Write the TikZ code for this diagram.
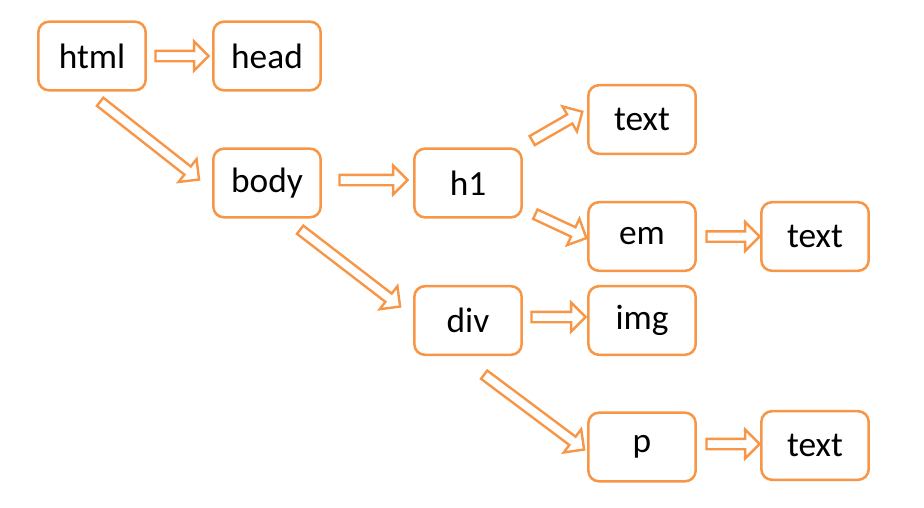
\documentclass[tikz,border=0pt]{standalone}
\usepackage{fontspec}
\setmainfont{Carlito}
\usetikzlibrary{shapes.arrows,calc}
\definecolor{accent}{HTML}{F79646}
\tikzset{
  box/.style={draw=accent, line width=1.9pt, rounded corners=8pt, fill=white,
    minimum width=80.5pt, minimum height=51.5pt, inner sep=0pt,
    font=\fontsize{26.5}{30}\selectfont, text=black},
  blockarrow/.style={single arrow, draw=accent, line width=1.8pt, fill=white,
    inner xsep=0pt, inner ysep=3pt, single arrow head extend=7pt,
    single arrow tip angle=90, anchor=center}
}
\newcommand\barrow[2]{%
  \path let \p1=(#1), \p2=(#2),
    \n1={atan2(\y2-\y1,\x2-\x1)}, \n2={veclen(\x2-\x1,\y2-\y1)} in
    node[blockarrow, rotate=\n1, minimum height=\n2] at ($(\p1)!0.5!(\p2)$) {};}
\begin{document}
\begin{tikzpicture}[x=0.75pt,y=-0.75pt]
\useasboundingbox (0,0) rectangle (924,507);
\node[box] (html)  at (92,56)    {html};
\node[box] (head)  at (267,56)   {head};
\node[box] (body)  at (267,183)  {body};
\node[box] (h1)    at (468,183)  {h1};
\node[box] (text1) at (642,119.5){text};
\node[box] (em)    at (642,236.5){em};
\node[box] (text2) at (815,236.5){text};
\node[box] (div)   at (468,320.5){div};
\node[box] (img)   at (642,320.5){img};
\node[box] (p)     at (642,447)  {p};
\node[box] (text3) at (815,445.5){text};

\barrow{$(html.east)+(6,0)$}{$(head.west)+(-6,0)$}
\barrow{$(html.south)+(6,8.5)$}{$(body.west)+(-15,-5)$}
\barrow{$(body.east)+(15,-3)$}{$(h1.west)+(-8,-3)$}
\barrow{$(h1.north east)+(7,-5.5)$}{$(text1.west)+(-7,-6.5)$}
\barrow{$(h1.south east)+(10,-5.5)$}{$(em.west)+(-3,0.5)$}
\barrow{$(em.east)+(7,0)$}{$(text2.west)+(-3,0)$}
\barrow{$(body.south)+(31,9.5)$}{$(div.west)+(-15,-15.5)$}
\barrow{$(div.east)+(6,-3.5)$}{$(img.west)+(-4,-3.5)$}
\barrow{$(div.south)+(14,17)$}{$(p.west)+(-5,1)$}
\barrow{$(p.east)+(7,-3)$}{$(text3.west)+(-3,-1.5)$}
\end{tikzpicture}
\end{document}
